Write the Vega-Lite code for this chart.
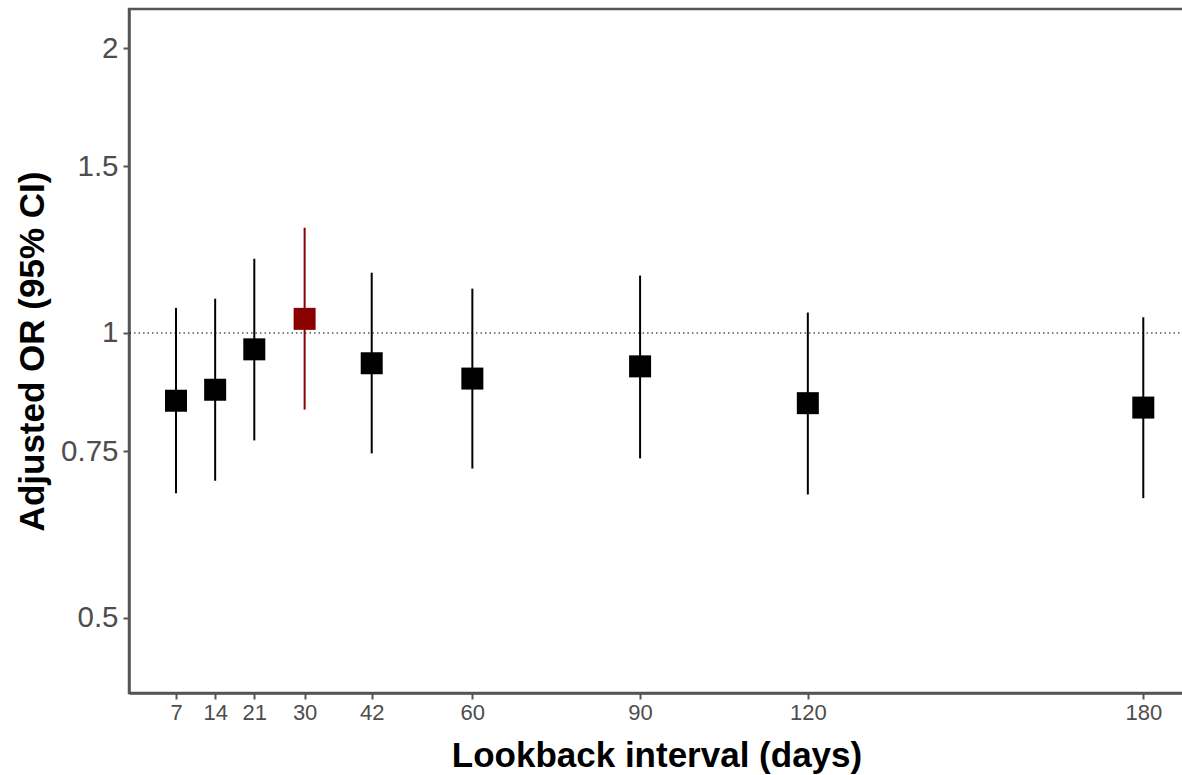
{
  "$schema": "https://vega.github.io/schema/vega-lite/v6.json",
  "autosize": "none",
  "width": 1055,
  "height": 684,
  "padding": {"left": 129, "top": 9, "right": 0, "bottom": 82},
  "background": "white",
  "config": {
    "view": {"stroke": "#555555", "strokeWidth": 2.5},
    "axis": {
      "domainColor": "#555555",
      "domainWidth": 2.5,
      "tickColor": "#555555",
      "tickWidth": 2,
      "tickSize": 6,
      "grid": false,
      "labelFont": "Liberation Sans",
      "labelColor": "#4d4d4d",
      "titleFont": "Liberation Sans",
      "titleFontWeight": "bold",
      "titleColor": "black",
      "titleFontSize": 35
    }
  },
  "data": {
    "values": [
      {"days": 7, "or": 0.848, "lo": 0.677, "hi": 1.063, "group": "other"},
      {"days": 14, "or": 0.871, "lo": 0.698, "hi": 1.087, "group": "other"},
      {"days": 21, "or": 0.961, "lo": 0.770, "hi": 1.198, "group": "other"},
      {"days": 30, "or": 1.035, "lo": 0.830, "hi": 1.292, "group": "primary"},
      {"days": 42, "or": 0.929, "lo": 0.746, "hi": 1.158, "group": "other"},
      {"days": 60, "or": 0.895, "lo": 0.719, "hi": 1.114, "group": "other"},
      {"days": 90, "or": 0.922, "lo": 0.737, "hi": 1.150, "group": "other"},
      {"days": 120, "or": 0.843, "lo": 0.675, "hi": 1.051, "group": "other"},
      {"days": 180, "or": 0.834, "lo": 0.669, "hi": 1.039, "group": "other"}
    ]
  },
  "encoding": {
    "x": {
      "field": "days",
      "type": "quantitative",
      "scale": {"domain": [-1.41, 187.28], "nice": false, "zero": false},
      "axis": {
        "values": [7, 14, 21, 30, 42, 60, 90, 120, 180],
        "title": "Lookback interval (days)",
        "labelFontSize": 22,
        "labelPadding": 3,
        "titlePadding": 15
      }
    }
  },
  "layer": [
    {
      "data": {"values": [{"ref": 1}]},
      "mark": {"type": "rule", "color": "black", "strokeWidth": 1, "strokeDash": [1.5, 3]},
      "encoding": {
        "x": null,
        "y": {"field": "ref", "type": "quantitative"}
      }
    },
    {
      "mark": {"type": "rule", "strokeWidth": 2},
      "encoding": {
        "y": {
          "field": "lo",
          "type": "quantitative",
          "scale": {"type": "log", "domain": [0.4164, 2.2], "nice": false},
          "axis": {
            "values": [0.5, 0.75, 1, 1.5, 2],
            "format": "~g",
            "title": "Adjusted OR (95% CI)",
            "labelFontSize": 29.5,
            "labelPadding": 5,
            "titlePadding": 10
          }
        },
        "y2": {"field": "hi"},
        "color": {
          "field": "group",
          "type": "nominal",
          "scale": {"domain": ["other", "primary"], "range": ["black", "#8b0000"]},
          "legend": null
        }
      }
    },
    {
      "mark": {"type": "point", "shape": "square", "filled": true, "opacity": 1, "size": 484},
      "encoding": {
        "y": {"field": "or", "type": "quantitative"},
        "color": {"field": "group", "type": "nominal"}
      }
    }
  ]
}
